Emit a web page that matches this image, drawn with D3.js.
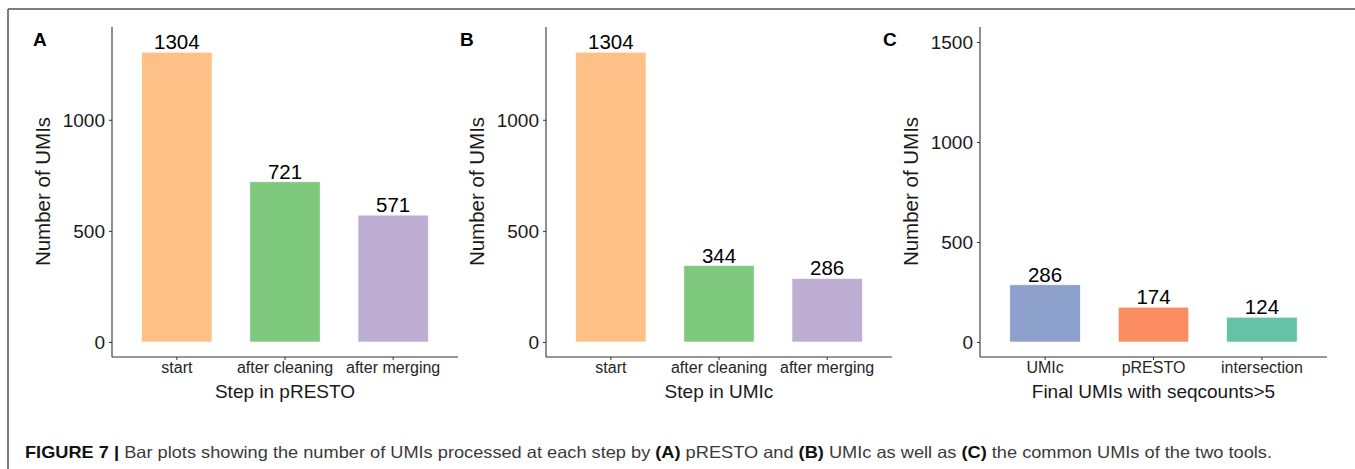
<!DOCTYPE html>
<html>
<head>
<meta charset="utf-8">
<script src="https://cdn.jsdelivr.net/npm/d3@7"></script>
<style>
  body { margin: 0; background: #fff; }
  svg { display: block; font-family: "Liberation Sans", Arial, Helvetica, sans-serif; }
</style>
</head>
<body>
<svg id="fig" width="1355" height="469"></svg>
<script>
// data
var stepsPresto = ["start", "after cleaning", "after merging"];
var countsPresto = [1304, 721, 571];
var colorsPresto = ["#FDC086", "#7FC97F", "#BEAED4"];

var stepsUmic = ["start", "after cleaning", "after merging"];
var countsUmic = [1304, 344, 286];
var colorsUmic = ["#FDC086", "#7FC97F", "#BEAED4"];

var finalNames = ["UMIc", "pRESTO", "intersection"];
var finalCounts = [286, 174, 124];
var finalColors = ["#8DA0CB", "#FC8D62", "#66C2A5"];

var ticksAB = [0, 500, 1000];
var ticksC = [0, 500, 1000, 1500];

var svg = d3.select("#fig");

// frame of the figure
svg.append("line").attr("x1", 8).attr("x2", 1355).attr("y1", 9).attr("y2", 9)
    .attr("stroke", "#555").attr("stroke-width", 1.5);
svg.append("line").attr("x1", 8).attr("x2", 8).attr("y1", 9).attr("y2", 469)
    .attr("stroke", "#555").attr("stroke-width", 1.5);

var panels = [
  {letter: "A", cats: stepsPresto, vals: countsPresto, cols: colorsPresto, ticks: ticksAB,
   ymax: 1350, x0: 112, x1: 458, lx: 33, xtitle: "Step in pRESTO"},
  {letter: "B", cats: stepsUmic, vals: countsUmic, cols: colorsUmic, ticks: ticksAB,
   ymax: 1350, x0: 546, x1: 892, lx: 460, xtitle: "Step in UMIc"},
  {letter: "C", cats: finalNames, vals: finalCounts, cols: finalColors, ticks: ticksC,
   ymax: 1500, x0: 980, x1: 1327, lx: 883, xtitle: "Final UMIs with seqcounts>5"}
];

var plotTop = 27, plotBottom = 357;

panels.forEach(function(p) {
    var g = svg.append("g");
    var pad = p.ymax * 0.05;
    var y = d3.scaleLinear().domain([-pad, p.ymax + pad]).range([plotBottom, plotTop]);
    var x = d3.scaleBand().domain(p.cats).range([p.x0, p.x1])
        .paddingInner(0.35).paddingOuter(0.275);

    var rows = p.cats.map(function(c, i) { return {cat: c, val: p.vals[i], col: p.cols[i]}; });

    g.selectAll("rect.bar").data(rows).enter().append("rect")
        .attr("class", "bar")
        .attr("x", function(d) { return x(d.cat); })
        .attr("width", x.bandwidth())
        .attr("y", function(d) { return y(d.val); })
        .attr("height", function(d) { return y(0) - y(d.val); })
        .attr("fill", function(d) { return d.col; })
        .attr("stroke", "#fff").attr("stroke-width", 0.6);

    g.selectAll("text.val").data(rows).enter().append("text")
        .attr("class", "val")
        .attr("x", function(d) { return x(d.cat) + x.bandwidth() / 2; })
        .attr("y", function(d) { return y(d.val) - 3; })
        .attr("text-anchor", "middle")
        .attr("font-size", 20.5)
        .attr("fill", "#000")
        .text(function(d) { return d.val; });

    // y axis
    var yAxis = g.append("g").attr("transform", "translate(" + p.x0 + ",0)")
        .call(d3.axisLeft(y).tickValues(p.ticks).tickSize(3).tickPadding(4).tickFormat(d3.format("d")));
    yAxis.select(".domain").attr("d", "M0," + plotTop + "V" + plotBottom)
        .attr("stroke", "#333").attr("stroke-width", 1.1);
    yAxis.selectAll(".tick line").attr("stroke", "#333");
    yAxis.selectAll(".tick text").attr("font-size", 19).attr("fill", "#1a1a1a")
        .attr("font-family", null).attr("dy", "0.36em");

    // x axis
    var xAxis = g.append("g").attr("transform", "translate(0," + plotBottom + ")")
        .call(d3.axisBottom(x).tickSize(3).tickPadding(4));
    xAxis.select(".domain").attr("d", "M" + p.x0 + ",0H" + p.x1)
        .attr("stroke", "#333").attr("stroke-width", 1.1);
    xAxis.selectAll(".tick line").attr("stroke", "#333");
    xAxis.selectAll(".tick text").attr("font-size", 16).attr("fill", "#262626")
        .attr("font-family", null).attr("dy", "0.71em").attr("y", 5);

    g.append("text")
        .attr("x", (p.x0 + p.x1) / 2).attr("y", 398)
        .attr("text-anchor", "middle").attr("font-size", 19).attr("fill", "#1a1a1a")
        .text(p.xtitle);

    g.append("text")
        .attr("transform", "translate(" + (p.x0 - 62) + "," + 191.5 + ") rotate(-90)")
        .attr("text-anchor", "middle").attr("font-size", 20.5).attr("fill", "#1a1a1a")
        .text("Number of UMIs");

    g.append("text")
        .attr("x", p.lx).attr("y", 46)
        .attr("font-size", 19).attr("font-weight", "bold").attr("fill", "#000")
        .text(p.letter);
});

// caption
var cap = svg.append("text")
    .attr("x", 25).attr("y", 458)
    .attr("font-size", 16.5).attr("fill", "#3a3a3a")
    .attr("textLength", 1247).attr("lengthAdjust", "spacingAndGlyphs");
var parts = [
  ["FIGURE 7 | ", true], ["Bar plots showing the number of UMIs processed at each step by ", false],
  ["(A)", true], [" pRESTO and ", false], ["(B)", true], [" UMIc as well as ", false],
  ["(C)", true], [" the common UMIs of the two tools.", false]
];
parts.forEach(function(pt) {
    cap.append("tspan").attr("font-weight", pt[1] ? "bold" : null)
        .attr("fill", pt[1] ? "#111" : null).text(pt[0]);
});
</script>
</body>
</html>
